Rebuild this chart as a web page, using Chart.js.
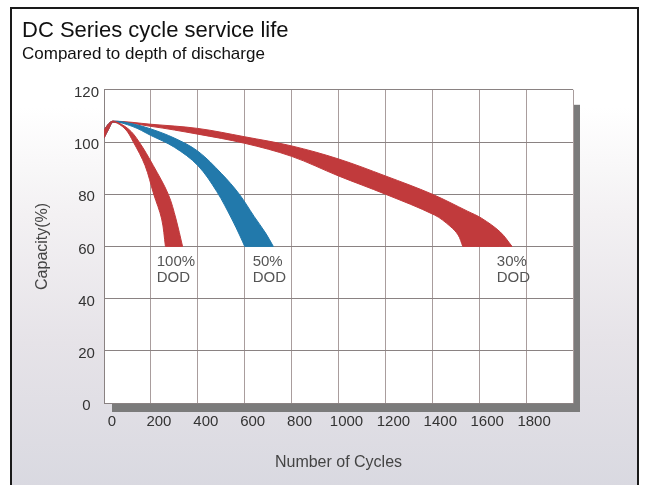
<!DOCTYPE html>
<html><head><meta charset="utf-8">
<script src="https://cdn.jsdelivr.net/npm/chart.js@4.4.1/dist/chart.umd.min.js"></script>
<style>
html,body{margin:0;padding:0;background:#fff;overflow:hidden;}
#frame{position:absolute;left:10px;top:7px;width:625px;height:490px;border:2px solid #1a1a1a;border-bottom:none;
 background:linear-gradient(to bottom,#ffffff 0%,#ffffff 20%,#f3f1f3 42%,#e6e3e8 68%,#d8d8e0 100%);}
canvas{position:absolute;left:0;top:0;}
</style></head><body>
<div id="frame"></div>
<canvas id="c" width="645" height="485"></canvas>
<script>
// ---- data ----
const chartTitle = 'DC Series cycle service life';
const chartSubtitle = 'Compared to depth of discharge';
const xAxisTitle = 'Number of Cycles';
const yAxisTitle = 'Capacity(%)';
const cycleTickLabels = ['0','200','400','600','800','1000','1200','1400','1600','1800'];
const capacityTickLabels = ['0','20','40','60','80','100','120'];

// 100% DOD band
const dod100OuterX = [0, 20, 40, 104, 150, 210, 274, 307, 335];
const dod100OuterY = [104.5, 107, 108, 105, 100, 91, 80, 70.5, 60];
const dod100InnerX = [0, 20, 40, 90, 125, 175, 212, 246, 262];
const dod100InnerY = [101.5, 105, 107.6, 105, 100, 91, 80, 70.5, 60];

// 50% DOD band
const dod50OuterX = [0, 20, 40, 120, 200, 300, 400, 500, 577, 640, 690, 722];
const dod50OuterY = [104.5, 107, 108, 107, 105, 101.5, 96.5, 88, 80, 71.5, 65, 60];
const dod50InnerX = [0, 20, 40, 120, 200, 300, 400, 481, 545, 580, 600];
const dod50InnerY = [101.5, 105, 107.6, 106, 102.5, 98, 91, 81, 70.5, 64, 60];

// 30% DOD band
const dod30OuterX = [0, 20, 40, 200, 400, 600, 800, 1000, 1200, 1400, 1550, 1610, 1690, 1740];
const dod30OuterY = [104.5, 107, 108, 106.8, 105.2, 102, 98.5, 93.5, 87, 80, 73.5, 70.8, 65.5, 60];
const dod30InnerX = [0, 20, 40, 200, 400, 600, 800, 1000, 1200, 1410, 1475, 1510, 1530];
const dod30InnerY = [101.5, 105, 107.6, 106, 103, 99.5, 94.5, 87, 80, 72, 67.8, 64.4, 60];

const dodLabels = [['100%','DOD'], ['50%','DOD'], ['30%','DOD']];
const dodLabelCycles = [225, 634, 1675];
const dodLabelCapacity = 57;

// ---- build ----
const toPts = (xs, ys) => xs.map((x, i) => ({x: x, y: ys[i]}));
// closed band outline: outer edge out, straight cut along 60 %, inner edge back.
// corner points are repeated so the smoothed curve keeps a sharp corner there.
function bandPolygon(ox, oy, ix, iy) {
  const outer = toPts(ox, oy);
  const inner = toPts(ix, iy).reverse();
  const oEnd = outer[outer.length - 1], iEnd = inner[0];
  return outer.concat([{x: oEnd.x, y: oEnd.y}, {x: iEnd.x, y: iEnd.y}], inner);
}

const RED = '#c13a3c', BLUE = '#2279ab';
const FONT = "'Liberation Sans', Arial, Helvetica, sans-serif";

const framePlugin = {
  id: 'frameShadow',
  beforeDraw(chart) {
    const {ctx, chartArea: a} = chart;
    ctx.save();
    ctx.fillStyle = '#7b7b7b';
    ctx.fillRect(a.right, a.top + 15, 7, a.bottom - a.top - 15 + 9);
    ctx.fillRect(a.left + 8, a.bottom, a.right - a.left - 8 + 7, 9);
    ctx.fillStyle = '#ffffff';
    ctx.fillRect(a.left, a.top, a.right - a.left, a.bottom - a.top);
    ctx.restore();
  }
};
const labelPlugin = {
  id: 'dodLabels',
  afterDatasetsDraw(chart) {
    const {ctx, scales: {x, y}} = chart;
    ctx.save();
    ctx.font = '15px ' + FONT;
    ctx.fillStyle = '#555';
    ctx.textAlign = 'left';
    ctx.textBaseline = 'top';
    dodLabels.forEach((lines, i) => {
      const px = x.getPixelForValue(dodLabelCycles[i]);
      const py = y.getPixelForValue(dodLabelCapacity);
      lines.forEach((t, j) => ctx.fillText(t, px, py + j * 16));
    });
    ctx.restore();
  }
};

function band(label, data, color, order) {
  return {label, data, borderColor: color, backgroundColor: color, order, fill: 'shape',
    pointRadius: 0, borderWidth: 1, tension: 0.35};
}

new Chart(document.getElementById('c'), {
  type: 'line',
  data: {
    datasets: [
      band('100% DOD', bandPolygon(dod100OuterX, dod100OuterY, dod100InnerX, dod100InnerY), RED, 1),
      band('50% DOD', bandPolygon(dod50OuterX, dod50OuterY, dod50InnerX, dod50InnerY), BLUE, 2),
      band('30% DOD', bandPolygon(dod30OuterX, dod30OuterY, dod30InnerX, dod30InnerY), RED, 3)
    ]
  },
  options: {
    responsive: false,
    animation: false,
    events: [],
    layout: {padding: {left: 22, right: 72, top: 0, bottom: 0}},
    plugins: {
      legend: {display: false},
      tooltip: {enabled: false},
      title: {display: true, text: chartTitle, align: 'start', color: '#111',
        font: {family: FONT, size: 22, weight: 'normal'}, padding: {top: 18, bottom: 0}},
      subtitle: {display: true, text: chartSubtitle, align: 'start', color: '#111',
        font: {family: FONT, size: 17, weight: 'normal'}, padding: {top: 0, bottom: 25}}
    },
    scales: {
      x: {
        type: 'linear', min: 0, max: 2000,
        afterFit: s => { s.height = 82; },
        grid: {color: '#a99d9d', lineWidth: 1, drawTicks: false},
        border: {color: '#8a8282'},
        ticks: {stepSize: 200, autoSkip: false, maxRotation: 0, padding: 10, labelOffset: 8,
          color: '#333', font: {family: FONT, size: 15},
          callback: (v) => cycleTickLabels[Math.round(v / 200)] || ''},
        title: {display: true, text: xAxisTitle, color: '#444', font: {family: FONT, size: 16},
          padding: {top: 0, bottom: 13}}
      },
      y: {
        min: 0, max: 120,
        afterFit: s => { s.width = 82; },
        grid: {color: '#8a8282', lineWidth: 1, drawTicks: false},
        border: {color: '#8a8282'},
        ticks: {stepSize: 20, padding: 5, crossAlign: 'center', labelOffset: 3,
          color: '#333', font: {family: FONT, size: 15},
          callback: (v) => capacityTickLabels[Math.round(v / 20)] || ''},
        title: {display: true, text: yAxisTitle, color: '#444', font: {family: FONT, size: 16},
          padding: {top: 11, bottom: 0}}
      }
    }
  },
  plugins: [framePlugin, labelPlugin]
});
</script></body></html>
